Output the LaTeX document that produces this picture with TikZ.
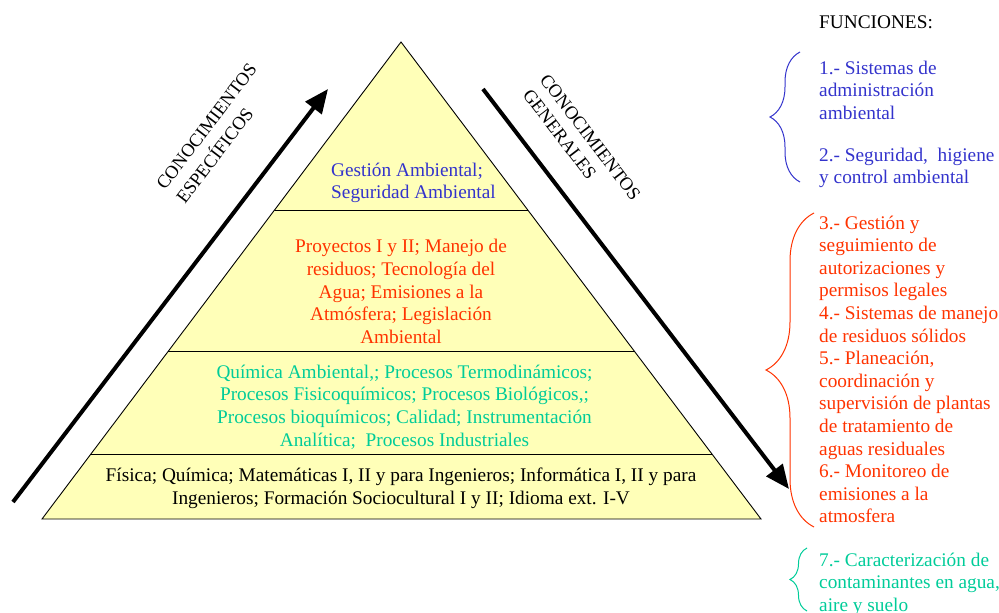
\documentclass[tikz,border=0pt]{standalone}
\usepackage{fontspec}
\setmainfont{Liberation Serif}
\usetikzlibrary{arrows.meta,decorations.pathreplacing,calc}
\definecolor{pyrfill}{HTML}{FFFFB8}
\definecolor{fblue}{HTML}{3333CC}
\definecolor{fred}{HTML}{FF3300}
\definecolor{fgreen}{HTML}{00CC99}
\begin{document}
\begin{tikzpicture}[x=1pt,y=-1pt,
  txt/.style={font=\fontsize{19.3}{22.6}\selectfont, inner sep=0pt},
  lbl/.style={font=\fontsize{18.5}{22}\selectfont, inner sep=0pt, anchor=base west},
  bigarrow/.style={line width=4pt, -{Triangle[length=24pt,width=20pt]}},
  bracestyle/.style={decorate, line width=1pt},
  divider/.style={draw=black, line width=0.9pt}]
\useasboundingbox (0,0) rectangle (999,613);
% pyramid
\coordinate (apex) at (401,42);
\coordinate (bl) at (42,519);
\coordinate (br) at (761,519);
\filldraw[fill=pyrfill, draw=black, line width=0.9pt] (apex) -- (bl) -- (br) -- cycle;
\coordinate (d1l) at ($(apex)!0.3522!(bl)$);
\coordinate (d1r) at ($(apex)!0.3522!(br)$);
\coordinate (d2l) at ($(apex)!0.6478!(bl)$);
\coordinate (d2r) at ($(apex)!0.6478!(br)$);
\coordinate (d3l) at ($(apex)!0.8637!(bl)$);
\coordinate (d3r) at ($(apex)!0.8637!(br)$);
\draw[divider] (d1l) -- (d1r);
\draw[divider] (d2l) -- (d2r);
\draw[divider] (d3l) -- (d3r);
% pyramid texts
\node[txt, text=fblue, align=left, anchor=west] (lev1) at (331,183)
  {Gestión Ambiental;\\Seguridad Ambiental};
\node[txt, text=fred, align=center] (lev2) at (401,291.5)
  {Proyectos I y II; Manejo de\\residuos; Tecnología del\\Agua; Emisiones a la\\Atmósfera; Legislación\\Ambiental};
\node[txt, text=fgreen, align=center] (lev3) at (404.5,407)
  {Química Ambiental,; Procesos Termodinámicos;\\Procesos Fisicoquímicos; Procesos Biológicos,;\\Procesos bioquímicos; Calidad; Instrumentación\\Analítica;\ \ Procesos Industriales};
\node[txt, text=black, align=center] (lev4) at (401,488)
  {Física; Química; Matemáticas I, II y para Ingenieros; Informática I, II y para\\Ingenieros; Formación Sociocultural I y II; Idioma ext. I-V};
% arrows
\coordinate (la1) at (13,502);
\coordinate (la2) at (328,89);
\coordinate (ra1) at (483,89);
\coordinate (ra2) at (789,489);
\draw[bigarrow] (la1) -- (la2);
\draw[bigarrow] (ra1) -- (ra2);
% rotated labels
\node[lbl, rotate=52.7] (esp1) at (165,191) {CONOCIMIENTOS};
\node[lbl, rotate=52.7] (esp2) at (185,205) {ESPECÍFICOS};
\node[lbl, rotate=-52.6] (gen1) at (539,80) {CONOCIMIENTOS};
\node[lbl, rotate=-52.6] (gen2) at (522,95) {GENERALES};
% functions (base west = baseline of the last line)
\node[txt, anchor=base west] (fun) at (819,28) {FUNCIONES:};
\node[txt, text=fblue, align=left, anchor=base west] (f1) at (819,119.2)
  {1.- Sistemas de\\administración\\ambiental};
\node[txt, text=fblue, align=left, anchor=base west] (f2) at (819,183.6)
  {2.- Seguridad,\ \ higiene\\y control ambiental};
\node[txt, text=fred, align=left, anchor=base west] (f3) at (819,522.8)
  {3.- Gestión y\\seguimiento de\\autorizaciones y\\permisos legales\\4.- Sistemas de manejo\\de residuos sólidos\\5.- Planeación,\\coordinación y\\supervisión de plantas\\de tratamiento de\\aguas residuales\\6.- Monitoreo de\\emisiones a la\\atmosfera};
\node[txt, text=fgreen, align=left, anchor=base west] (f7) at (819,611.2)
  {7.- Caracterización de\\contaminantes en agua,\\aire y suelo};
% braces
\coordinate (bb1) at (800,182);
\coordinate (bb2) at (800,52);
\coordinate (rb1) at (814,527);
\coordinate (rb2) at (814,213);
\coordinate (gb1) at (807,611);
\coordinate (gb2) at (807,548);
\draw[bracestyle, fblue, decoration={brace, amplitude=30pt}] (bb1) -- (bb2);
\draw[bracestyle, fred, decoration={brace, amplitude=48pt}] (rb1) -- (rb2);
\draw[bracestyle, fgreen, decoration={brace, amplitude=17pt}] (gb1) -- (gb2);
\end{tikzpicture}
\end{document}
